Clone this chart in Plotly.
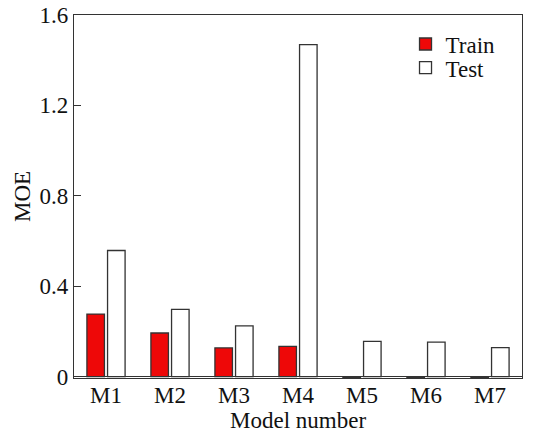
import plotly.graph_objects as go

models = ["M1", "M2", "M3", "M4", "M5", "M6", "M7"]
train = [0.277, 0.193, 0.127, 0.134, -0.004, -0.004, -0.004]
test = [0.558, 0.298, 0.225, 1.469, 0.156, 0.153, 0.128]
y_ticks = [0, 0.4, 0.8, 1.2, 1.6]
y_tick_text = ["0", "0.4", "0.8", "1.2", "1.6"]

font = "Liberation Serif"
FS = 23

fig = go.Figure()
fig.add_trace(go.Bar(x=models, y=train, name="Train", legend="legend",
                     marker=dict(color="#EE0808", line=dict(color="#333333", width=1.3))))
fig.add_trace(go.Bar(x=models, y=test, name="Test", legend="legend2",
                     marker=dict(color="white", line=dict(color="#333333", width=1.3))))

leg_common = dict(xanchor="left", yanchor="middle", bgcolor="rgba(0,0,0,0)",
                  font=dict(size=FS, family=font, color="#111111"), itemwidth=30)

fig.update_layout(
    width=537, height=434,
    margin=dict(l=74, r=15, t=15, b=56),
    paper_bgcolor="white", plot_bgcolor="white",
    barmode="group", bargap=0.355, bargroupgap=0.15,
    font=dict(family=font, size=FS, color="#111111"),
    showlegend=True,
    legend=dict(x=0.74, y=0.92, **leg_common),
    legend2=dict(x=0.74, y=0.855, **leg_common),
    xaxis=dict(range=[-0.5, 6.5], showline=True, linecolor="#333333", linewidth=1.3,
               mirror=True, ticks="", showgrid=False, automargin=False,
               ticklabelstandoff=-4,
               tickfont=dict(size=FS, family=font)),
    yaxis=dict(range=[-0.006, 1.6], showline=True, linecolor="#333333", linewidth=1.3,
               mirror=True, ticks="inside", ticklen=7, tickcolor="#333333",
               tickvals=y_ticks, ticktext=y_tick_text, showgrid=False, zeroline=True,
               zerolinecolor="#333333", zerolinewidth=1.3, automargin=False,
               title=dict(text="MOE", font=dict(size=FS, family=font), standoff=2),
               tickfont=dict(size=FS, family=font)),
    annotations=[dict(text="Model number", xref="paper", yref="paper", x=0.5, y=-0.118,
                      xanchor="center", yanchor="middle", showarrow=False,
                      font=dict(size=FS, family=font, color="#111111"))],
)

fig.write_html("out.html")
